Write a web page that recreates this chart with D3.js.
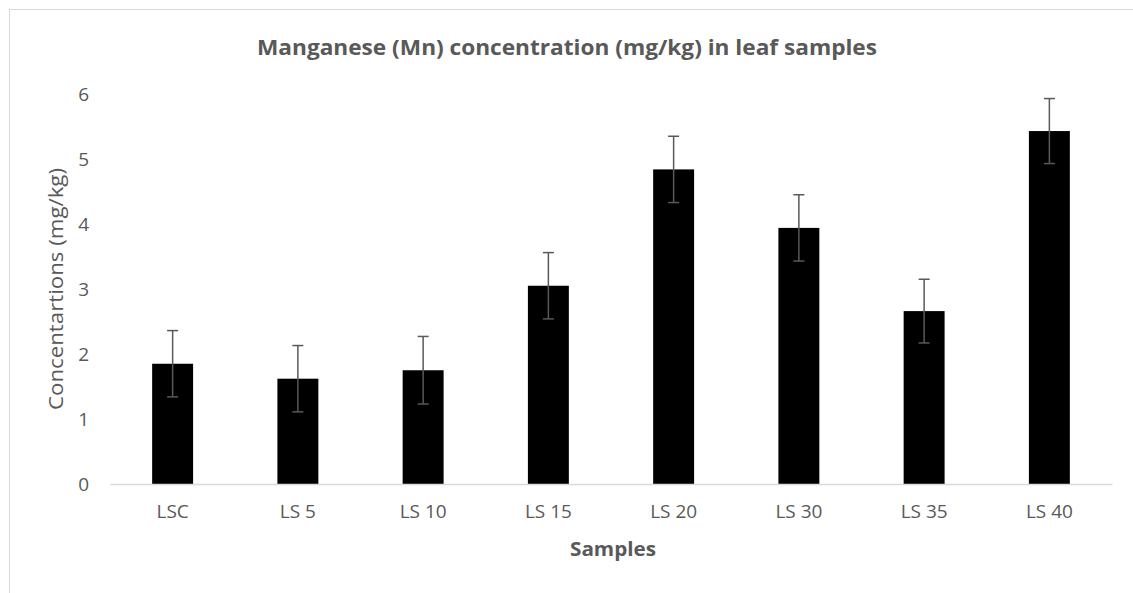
<!DOCTYPE html>
<html>
<head>
<meta charset="utf-8">
<script src="https://cdn.jsdelivr.net/npm/d3@7"></script>
<style>
  html, body { margin: 0; padding: 0; background: #fff; }
  svg { display: block; }
  text { font-family: "Open Sans", "Noto Sans", sans-serif; fill: #595959; }
</style>
</head>
<body>
<svg id="chart" width="1133" height="593"></svg>
<script>
const categories = ["LSC", "LS 5", "LS 10", "LS 15", "LS 20", "LS 30", "LS 35", "LS 40"];
const values = [1.85, 1.62, 1.75, 3.05, 4.84, 3.94, 2.66, 5.43];
const errors = [0.51, 0.51, 0.52, 0.51, 0.51, 0.51, 0.49, 0.50];
const yTicks = [0, 1, 2, 3, 4, 5, 6];
const titleText = "Manganese (Mn) concentration (mg/kg) in leaf samples";
const xTitle = "Samples";
const yTitle = "Concentartions (mg/kg)";

const svg = d3.select("#chart");

// chart area border
svg.append("rect")
  .attr("x", 9.5).attr("y", 9.5)
  .attr("width", 1200).attr("height", 700)
  .attr("fill", "none").attr("stroke", "#d9d9d9").attr("stroke-width", 1);

const x = d3.scaleBand()
  .domain(categories)
  .range([110, 1112])
  .paddingInner(0.673)
  .paddingOuter(0.3365);

const y = d3.scaleLinear().domain([0, 6]).range([484, 94]);

// title
svg.append("text")
  .attr("x", 567).attr("y", 55)
  .attr("text-anchor", "middle")
  .attr("font-size", 22).attr("font-weight", "bold")
  .attr("textLength", 620).attr("lengthAdjust", "spacingAndGlyphs")
  .text(titleText);

// y axis (labels only)
const yAxis = d3.axisLeft(y).tickValues(yTicks).tickSize(0).tickPadding(0).tickFormat(d3.format("d"));
const yg = svg.append("g").attr("transform", "translate(89,0)").call(yAxis);
yg.select(".domain").remove();
yg.selectAll("text").attr("font-size", 19).attr("fill", "#595959")
  .style("font-family", "'Open Sans', sans-serif");

// bars
svg.append("g").selectAll("rect")
  .data(categories)
  .join("rect")
  .attr("x", d => x(d))
  .attr("width", x.bandwidth())
  .attr("y", (d, i) => y(values[i]))
  .attr("height", (d, i) => y(0) - y(values[i]))
  .attr("fill", "#000");

// x axis
const xAxis = d3.axisBottom(x).tickSize(0).tickPadding(21);
const xg = svg.append("g").attr("transform", `translate(0,${y(0)})`).call(xAxis);
xg.select(".domain").attr("stroke", "#d9d9d9").attr("stroke-width", 1.5);
xg.selectAll("text").attr("font-size", 19).attr("fill", "#595959")
  .style("font-family", "'Open Sans', sans-serif");

// error bars
const eb = svg.append("g").attr("stroke", "#595959").attr("stroke-width", 1.5);
categories.forEach((c, i) => {
  const cx = x(c) + x.bandwidth() / 2;
  const hi = y(values[i] + errors[i]);
  const lo = y(values[i] - errors[i]);
  eb.append("line").attr("x1", cx).attr("x2", cx).attr("y1", hi).attr("y2", lo);
  eb.append("line").attr("x1", cx - 5.5).attr("x2", cx + 5.5).attr("y1", hi).attr("y2", hi);
  eb.append("line").attr("x1", cx - 5.5).attr("x2", cx + 5.5).attr("y1", lo).attr("y2", lo);
});

// axis titles
svg.append("text")
  .attr("x", 613).attr("y", 556)
  .attr("text-anchor", "middle")
  .attr("font-size", 20).attr("font-weight", "bold")
  .attr("textLength", 86).attr("lengthAdjust", "spacingAndGlyphs")
  .text(xTitle);

svg.append("text")
  .attr("transform", "translate(63,289) rotate(-90)")
  .attr("text-anchor", "middle")
  .attr("font-size", 20)
  .attr("textLength", 242).attr("lengthAdjust", "spacingAndGlyphs")
  .text(yTitle);
</script>
</body>
</html>
